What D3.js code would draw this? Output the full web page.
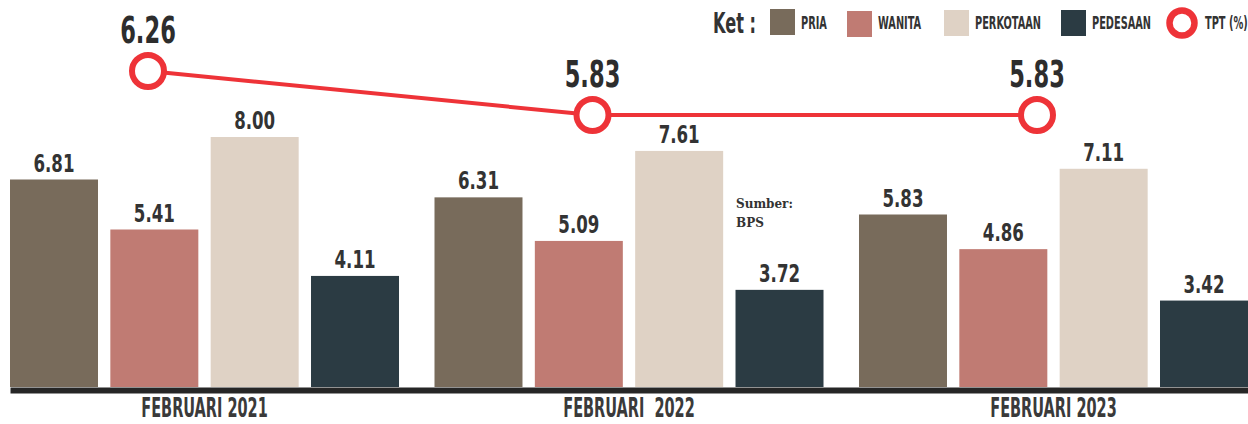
<!DOCTYPE html>
<html>
<head>
<meta charset="utf-8">
<script src="https://cdn.jsdelivr.net/npm/d3@7"></script>
<style>
  html, body { margin: 0; padding: 0; background: #ffffff; }
  svg { display: block; }
  .cond { font-family: "DejaVu Sans Condensed", "Liberation Sans Narrow", "Liberation Sans", sans-serif; font-weight: 700; }
</style>
</head>
<body>
<svg id="chart" width="1248" height="424"></svg>
<script>
// ---- data ----
const periods = ["FEBRUARI 2021", "FEBRUARI  2022", "FEBRUARI 2023"];
const seriesNames = ["PRIA", "WANITA", "PERKOTAAN", "PEDESAAN"];
const pria = [6.81, 6.31, 5.83];
const wanita = [5.41, 5.09, 4.86];
const perkotaan = [8.00, 7.61, 7.11];
const pedesaan = [4.11, 3.72, 3.42];
const tpt = [6.26, 5.83, 5.83];
const lineLabel = "TPT (%)";
const legendTitle = "Ket :";
const sourceLines = ["Sumber:", "BPS"];

// ---- styles ----
const colors = { PRIA: "#786b5b", WANITA: "#c07b73", PERKOTAAN: "#dfd2c5", PEDESAAN: "#2b3b43" };
const red = "#ee3338";
const textCol = "#333333";

const seriesValues = [pria, wanita, perkotaan, pedesaan];
const rows = periods.map((p, i) => ({
  period: p,
  values: seriesNames.map((s, j) => ({ key: s, value: seriesValues[j][i] }))
}));

const svg = d3.select("#chart");
const baseY = 387;

const x0 = d3.scaleBand().domain(periods).range([10, 1248]).paddingInner(0.0836).paddingOuter(0);
const x1 = d3.scaleBand().domain(seriesNames).range([0, x0.bandwidth()]).paddingInner(0.123).paddingOuter(0);
const y = d3.scaleLinear().domain([1, 8]).range([baseY, 137]);

const xLine = d3.scalePoint().domain(periods).range([148, 1037]);
const yLine = d3.scaleLinear().domain([5.83, 6.26]).range([115, 71]);

const fmt = d3.format(".2f");

// bars
const grp = svg.append("g").selectAll("g").data(rows).join("g")
  .attr("transform", d => `translate(${x0(d.period)},0)`);

grp.selectAll("rect").data(d => d.values).join("rect")
  .attr("x", d => x1(d.key))
  .attr("y", d => y(d.value))
  .attr("width", x1.bandwidth())
  .attr("height", d => baseY - y(d.value))
  .attr("fill", d => colors[d.key]);

grp.selectAll("text").data(d => d.values).join("text")
  .attr("class", "cond")
  .attr("transform", d => `translate(${x1(d.key) + x1.bandwidth() / 2},${y(d.value) - 8}) scale(0.77,1)`)
  .attr("text-anchor", "middle")
  .attr("font-size", 24)
  .attr("fill", textCol)
  .text(d => fmt(d.value));

// axis
const axis = svg.append("g")
  .attr("transform", `translate(0,${baseY + 3})`)
  .call(d3.axisBottom(x0).tickSize(0).tickSizeOuter(0));
axis.select(".domain").attr("stroke", "#262626").attr("stroke-width", 6);
axis.selectAll(".tick text")
  .attr("class", "cond")
  .attr("font-size", 26)
  .attr("fill", "#3a3a3a")
  .attr("y", 27)
  .attr("dy", 0)
  .style("white-space", "pre")
  .attr("transform", "scale(0.62,1)");

// TPT line
svg.append("path")
  .datum(tpt)
  .attr("fill", "none")
  .attr("stroke", red)
  .attr("stroke-width", 4)
  .attr("d", d3.line().x((d, i) => xLine(periods[i])).y(d => yLine(d)));

svg.append("g").selectAll("circle").data(tpt).join("circle")
  .attr("cx", (d, i) => xLine(periods[i]))
  .attr("cy", d => yLine(d))
  .attr("r", 16)
  .attr("fill", "#ffffff")
  .attr("stroke", red)
  .attr("stroke-width", 6);

svg.append("g").selectAll("text").data(tpt).join("text")
  .attr("class", "cond")
  .attr("transform", (d, i) => `translate(${xLine(periods[i])},${yLine(d) - 28}) scale(0.66,1)`)
  .attr("text-anchor", "middle")
  .attr("font-size", 38)
  .attr("fill", "#2d2d2d")
  .text(d => fmt(d));

// source
svg.append("g").selectAll("text").data(sourceLines).join("text")
  .attr("x", 736)
  .attr("y", (d, i) => 208 + i * 19)
  .attr("font-family", "'DejaVu Serif', 'Liberation Serif', serif")
  .attr("font-weight", 700)
  .attr("font-size", 12)
  .attr("fill", textCol)
  .text(d => d);

// legend
const leg = svg.append("g");
leg.append("text")
  .attr("class", "cond")
  .attr("transform", "translate(713,33) scale(0.62,1)")
  .attr("font-size", 29)
  .attr("fill", "#333")
  .text(legendTitle);

const legX = [770, 847, 944, 1061];
const legY = [9, 11, 10, 10];
seriesNames.forEach((s, i) => {
  leg.append("rect").attr("x", legX[i]).attr("y", legY[i]).attr("width", 25).attr("height", 26).attr("fill", colors[s]);
  leg.append("text")
    .attr("class", "cond")
    .attr("transform", `translate(${legX[i] + 31},29) scale(0.64,1)`)
    .attr("font-size", 17)
    .attr("fill", "#333")
    .text(s);
});
leg.append("circle").attr("cx", 1182).attr("cy", 23).attr("r", 12.5)
  .attr("fill", "#fff").attr("stroke", red).attr("stroke-width", 6.5);
leg.append("text")
  .attr("class", "cond")
  .attr("transform", "translate(1205,29) scale(0.64,1)")
  .attr("font-size", 17)
  .attr("fill", "#333")
  .text(lineLabel);
</script>
</body>
</html>
